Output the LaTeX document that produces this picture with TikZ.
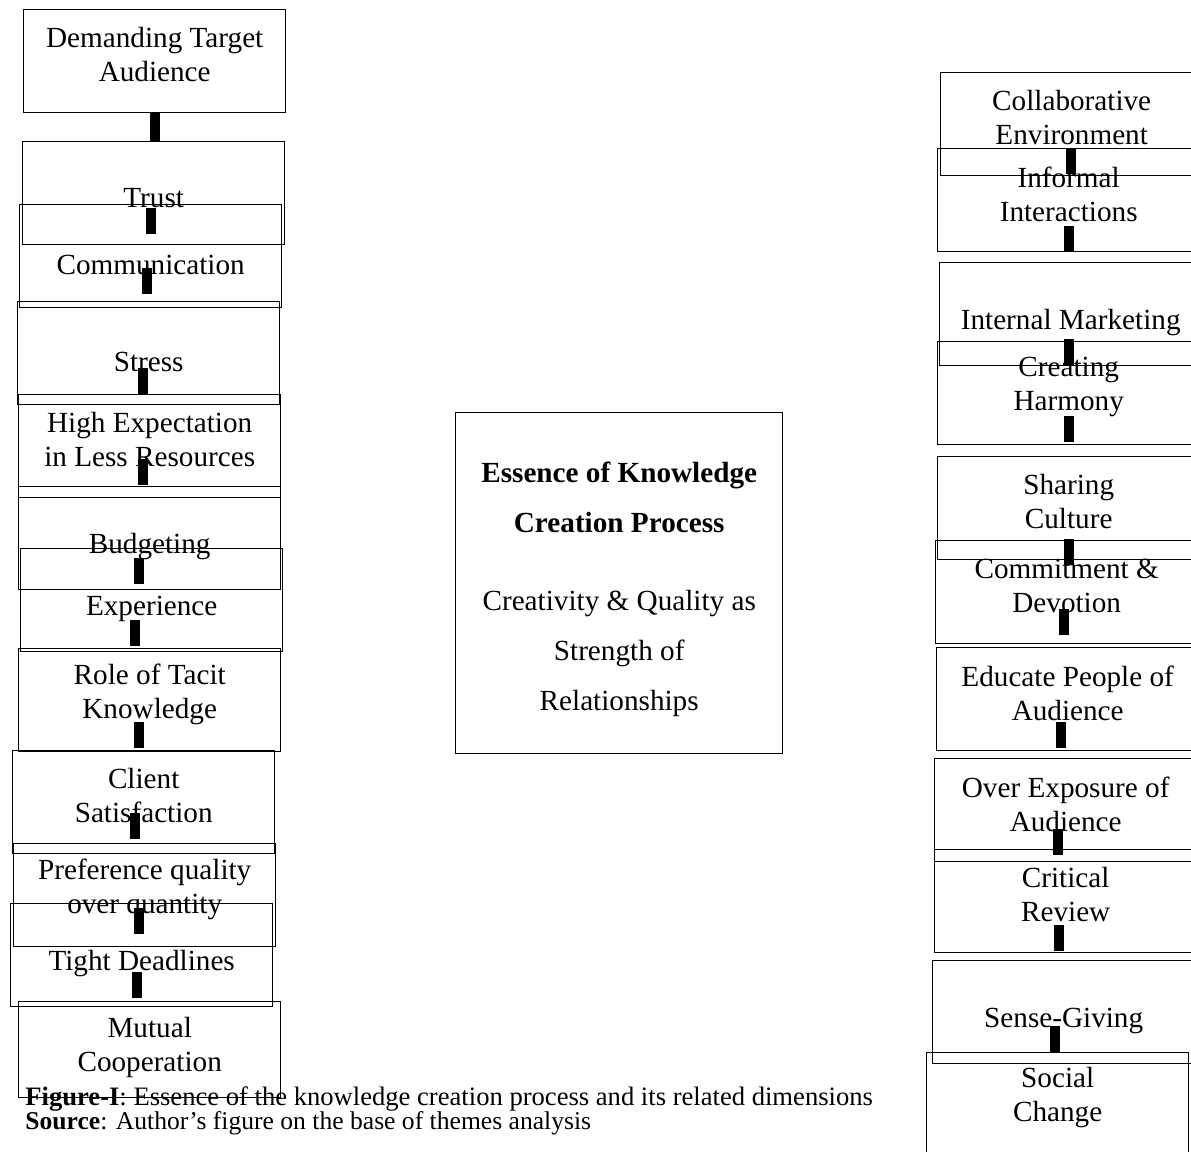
\documentclass[tikz,border=0pt]{standalone}
\usepackage{fontspec}
\setmainfont{Liberation Serif}
\newcommand{\boxfont}{\fontsize{14.6}{17}\selectfont}
\begin{document}
\begin{tikzpicture}[x=0.5pt,y=-0.5pt,
    dimbox/.style={draw, line width=0.7pt, anchor=north west, inner sep=0pt,
      minimum width=131pt, minimum height=51.5pt},
    oneline/.style={anchor=center, yshift=-30.5pt, font=\boxfont},
    twoline/.style={anchor=center, yshift=-23pt, align=center, font=\boxfont},
    bar/.style={line width=5pt}]
  \clip (0,0) rectangle (1191,1152);
  % left column
  \node[dimbox, label={[twoline]north:{Demanding Target\\Audience}}] (target) at (23,9) {};
  \node[dimbox, label={[oneline, yshift=2pt]north:{Trust}}] (trust) at (22,141) {};
  \node[dimbox, label={[oneline]north:{Communication}}] (comm) at (19,204) {};
  \node[dimbox, label={[oneline]north:{Stress}}] (stress) at (17,301) {};
  \node[dimbox, label={[twoline]north:{High Expectation\\in Less Resources}}] (expect) at (18,394) {};
  \node[dimbox, label={[oneline]north:{Budgeting}}] (budget) at (18,486) {};
  \node[dimbox, label={[oneline]north:{Experience}}] (exper) at (20,548) {};
  \node[dimbox, label={[twoline]north:{Role of Tacit\\Knowledge}}] (tacit) at (18,648) {};
  \node[dimbox, label={[twoline]north:{Client\\Satisfaction}}] (client) at (12,750) {};
  \node[dimbox, label={[twoline]north:{Preference quality\\over quantity}}] (pref) at (13,843) {};
  \node[dimbox, label={[oneline]north:{Tight Deadlines}}] (deadl) at (10,903) {};
  \node[dimbox, minimum height=48pt, label={[twoline]north:{Mutual\\Cooperation}}] (coop) at (18,1001) {};
  % right column
  \node[dimbox, label={[twoline]north:{Collaborative\\Environment}}] (collab) at (940,72) {};
  \node[dimbox, label={[twoline]north:{Informal\\Interactions}}] (informal) at (937,148) {};
  \node[dimbox, label={[oneline]north:{Internal Marketing}}] (intmkt) at (939,262) {};
  \node[dimbox, label={[twoline]north:{Creating\\Harmony}}] (harmony) at (937,341) {};
  \node[dimbox, label={[twoline]north:{Sharing\\Culture}}] (sharing) at (937,456) {};
  \node[dimbox, label={[twoline]north:{Commitment \&\\Devotion}}] (commit) at (935,540) {};
  \node[dimbox, label={[twoline]north:{Educate People of\\Audience}}] (educate) at (936,647) {};
  \node[dimbox, label={[twoline]north:{Over Exposure of\\Audience}}] (exposure) at (934,758) {};
  \node[dimbox, label={[twoline]north:{Critical\\Review}}] (review) at (934,849) {};
  \node[dimbox, label={[oneline]north:{Sense-Giving}}] (sense) at (932,960) {};
  \node[dimbox, label={[twoline]north:{Social\\Change}}] (social) at (926,1052) {};
  % centre
  \node[draw, line width=0.7pt, anchor=north west, inner sep=0pt,
    minimum width=163.5pt, minimum height=170.5pt,
    label={[align=center, yshift=-3pt, font=\fontsize{14.6}{25}\selectfont]center:{%
      \textbf{Essence of Knowledge}\\\textbf{Creation Process}\\[14pt]Creativity \& Quality as\\Strength of\\Relationships}}]
    (essence) at (455,412) {};
  % caption
  \node[anchor=base west, inner sep=0pt, font=\fontsize{13.3}{12}\selectfont] (caption) at (25,1105)
    {\textbf{Figure-I}: Essence of the knowledge creation process and its related dimensions};
  \node[anchor=base west, inner sep=0pt, font=\fontsize{12.8}{12}\selectfont] (source) at (25,1129)
    {\textbf{Source}: Author’s figure on the base of themes analysis};
  % bars
  \draw[bar] (target.south) -- (target.south |- trust.north);
  \foreach \bx/\by [count=\i] in {151/208, 147/268, 143/368, 143/459, 139/558, 135/620,
      139/722, 135/813, 139/908, 137/972,
      1071/148, 1069/226, 1069/339, 1069/416, 1069/539, 1064/609, 1061/722,
      1058/829, 1059/925, 1055/1026}
    \draw[bar] (\bx,\by) coordinate (bar\i) -- ++(0,26);
\end{tikzpicture}
\end{document}
